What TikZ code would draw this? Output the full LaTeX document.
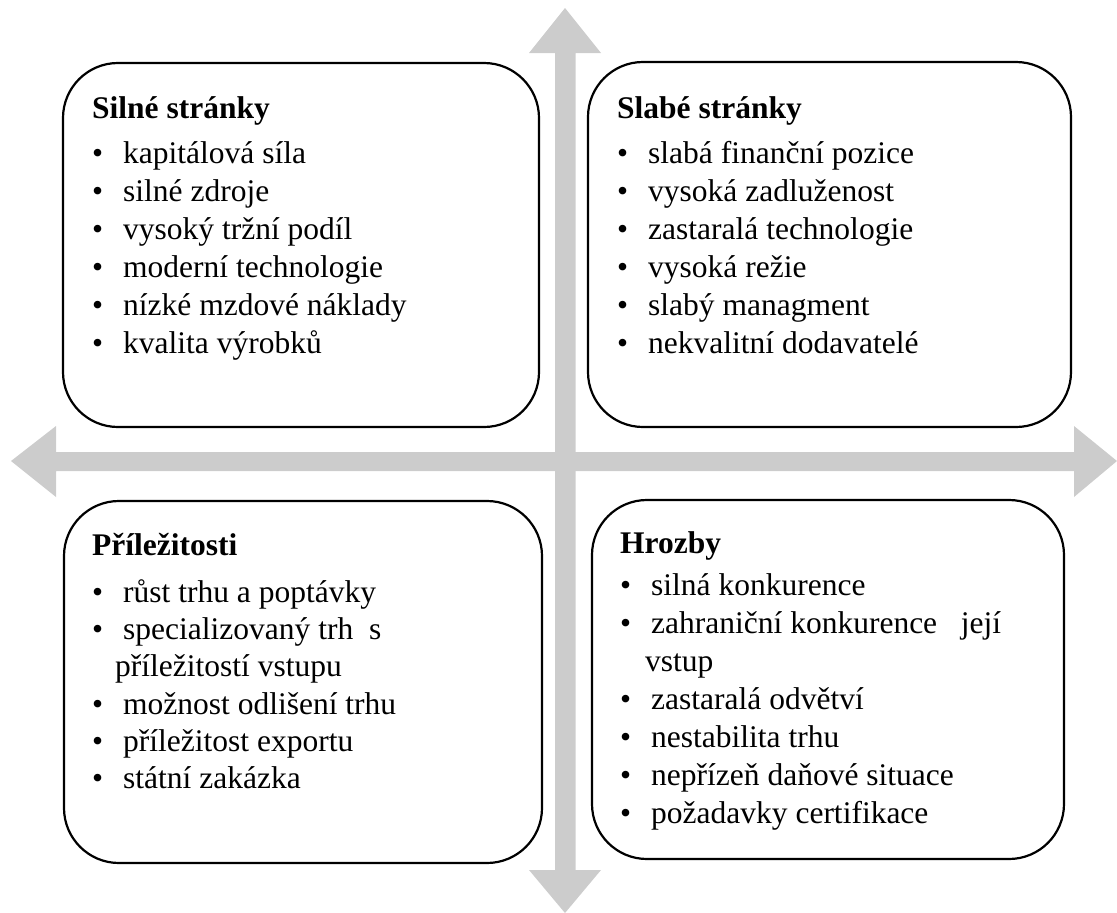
\documentclass[tikz,border=0pt]{standalone}
\usepackage{fontspec}
\setmainfont{Liberation Serif}
\definecolor{arrowgray}{RGB}{204,204,204}
\newcommand\litem[4]{%
  \node[itemtxt] (#1b) at (#2,#3) {•};
  \node[itemtxt] (#1) at (#2+31,#3) {#4};}
\begin{document}
\begin{tikzpicture}[x=1pt,y=-1pt,
  box/.style={draw=black, line width=2.2pt, rounded corners=55pt},
  titletxt/.style={anchor=base west, inner sep=0pt, font=\fontsize{31.5}{38}\selectfont\bfseries},
  itemtxt/.style={anchor=base west, inner sep=0pt, font=\fontsize{31.5}{38}\selectfont},
]
\useasboundingbox (0,0) rectangle (1117,913);
% axes arrows
\fill[arrowgray] (565,8) -- (601,53) -- (575.5,53) -- (575.5,870) -- (601,870) -- (565,913)
  -- (529,870) -- (555,870) -- (555,53) -- (529,53) -- cycle;
\fill[arrowgray] (11,461) -- (56,426) -- (56,452) -- (1074,452) -- (1074,426) -- (1117,461)
  -- (1074,497) -- (1074,471) -- (56,471) -- (56,497) -- cycle;
% boxes
\draw[box] (63,63) rectangle (539,427);
\draw[box] (588,62) rectangle (1071,427);
\draw[box] (64,501) rectangle (542,863);
\draw[box] (592,500) rectangle (1064,859);
% top left
\node[titletxt] (tlt) at (92,118) {Silné stránky};
\litem{tl1}{92}{163}{kapitálová síla}
\litem{tl2}{92}{201}{silné zdroje}
\litem{tl3}{92}{239}{vysoký tržní podíl}
\litem{tl4}{92}{277}{moderní technologie}
\litem{tl5}{92}{315}{nízké mzdové náklady}
\litem{tl6}{92}{353}{kvalita výrobků}
% top right
\node[titletxt] (trt) at (617,118) {Slabé stránky};
\litem{tr1}{617}{163}{slabá finanční pozice}
\litem{tr2}{617}{201}{vysoká zadluženost}
\litem{tr3}{617}{239}{zastaralá technologie}
\litem{tr4}{617}{277}{vysoká režie}
\litem{tr5}{617}{315}{slabý managment}
\litem{tr6}{617}{353}{nekvalitní dodavatelé}
% bottom left
\node[titletxt] (blt) at (92,555) {Příležitosti};
\litem{bl1}{92}{602}{růst trhu a poptávky}
\litem{bl2}{92}{639}{specializovaný trh\ \ s}
\node[itemtxt] (bl2w) at (115,676) {příležitostí vstupu};
\litem{bl3}{92}{714}{možnost odlišení trhu}
\litem{bl4}{92}{751}{příležitost exportu}
\litem{bl5}{92}{788}{státní zakázka}
% bottom right
\node[titletxt] (brt) at (620,553) {Hrozby};
\litem{br1}{620}{595}{silná konkurence}
\litem{br2}{620}{633}{zahraniční konkurence\ \ \ její}
\node[itemtxt] (br2w) at (645,671) {vstup};
\litem{br3}{620}{709}{zastaralá odvětví}
\litem{br4}{620}{747}{nestabilita trhu}
\litem{br5}{620}{785}{nepřízeň daňové situace}
\litem{br6}{620}{823}{požadavky certifikace}
\end{tikzpicture}
\end{document}
